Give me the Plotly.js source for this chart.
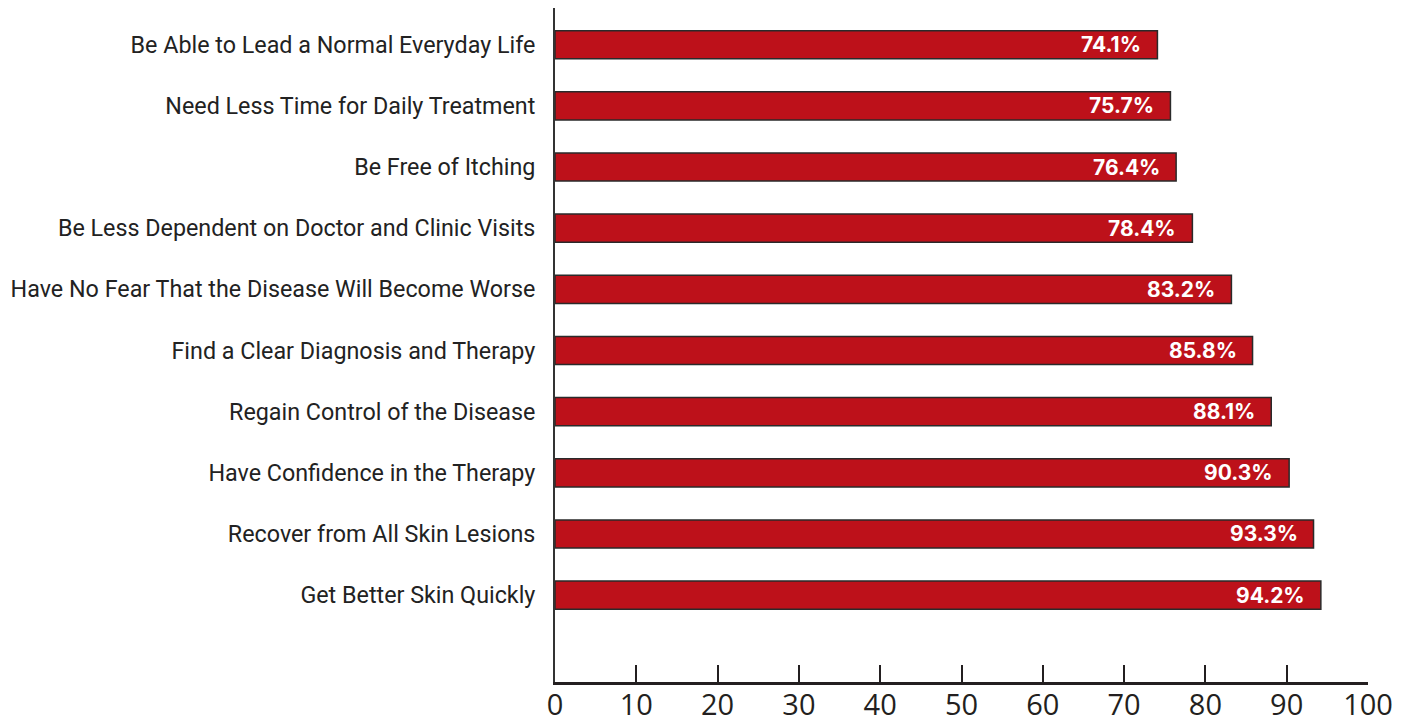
<!DOCTYPE html>
<html>
<head>
<meta charset="utf-8">
<script src="https://cdn.plot.ly/plotly-3.0.1.min.js"></script>
<style>html,body{margin:0;padding:0;background:#fff;}#chart{width:1413px;height:727px;}</style>
</head>
<body>
<div id="chart"></div>
<script>
const categories = [
  "Be Able to Lead a Normal Everyday Life",
  "Need Less Time for Daily Treatment",
  "Be Free of Itching",
  "Be Less Dependent on Doctor and Clinic Visits",
  "Have No Fear That the Disease Will Become Worse",
  "Find a Clear Diagnosis and Therapy",
  "Regain Control of the Disease",
  "Have Confidence in the Therapy",
  "Recover from All Skin Lesions",
  "Get Better Skin Quickly"
];
const values = [74.1, 75.7, 76.4, 78.4, 83.2, 85.8, 88.1, 90.3, 93.3, 94.2];
const valueLabels = values.map(v => v.toFixed(1) + "%");
const xTicks = [0, 10, 20, 30, 40, 50, 60, 70, 80, 90, 100];

const trace = {
  type: "bar",
  orientation: "h",
  x: values,
  y: categories,
  width: 0.46,
  marker: { color: "#bd111a", line: { color: "#2a2a2a", width: 1.5 } },
  hoverinfo: "none"
};

const annotations = values.map((v, i) => ({
  x: v, y: categories[i], xref: "x", yref: "y",
  text: "<b>" + valueLabels[i] + "</b>",
  showarrow: false, xanchor: "right", yanchor: "middle",
  xshift: -14,
  font: { family: "Inter, Roboto, sans-serif", size: 21, color: "#ffffff" }
}));

const layout = {
  width: 1413, height: 727,
  margin: { l: 555, r: 45, t: 8, b: 45 },
  paper_bgcolor: "#fff", plot_bgcolor: "#fff",
  showlegend: false,
  bargap: 0.54,
  xaxis: {
    range: [0, 100],
    tickvals: xTicks,
    ticktext: xTicks.map(String),
    ticks: "inside", ticklen: 17, tickwidth: 2, tickcolor: "#231f20",
    showline: true, linecolor: "#231f20", linewidth: 2.5,
    showgrid: false, zeroline: false,
    tickfont: { family: "Open Sans, sans-serif", size: 29, color: "#231f20" },
    ticklabelstandoff: -4,
    fixedrange: true
  },
  yaxis: {
    type: "category",
    categoryorder: "array", categoryarray: categories,
    range: [10.42, -0.6],
    showline: true, linecolor: "#333", linewidth: 2,
    ticks: "", showgrid: false, zeroline: false,
    tickfont: { family: "Roboto, sans-serif", size: 23.3, color: "#222" },
    ticklabelstandoff: 13,
    fixedrange: true
  },
  annotations: annotations
};

Plotly.newPlot("chart", [trace], layout, { displayModeBar: false, staticPlot: true });
</script>
</body>
</html>
